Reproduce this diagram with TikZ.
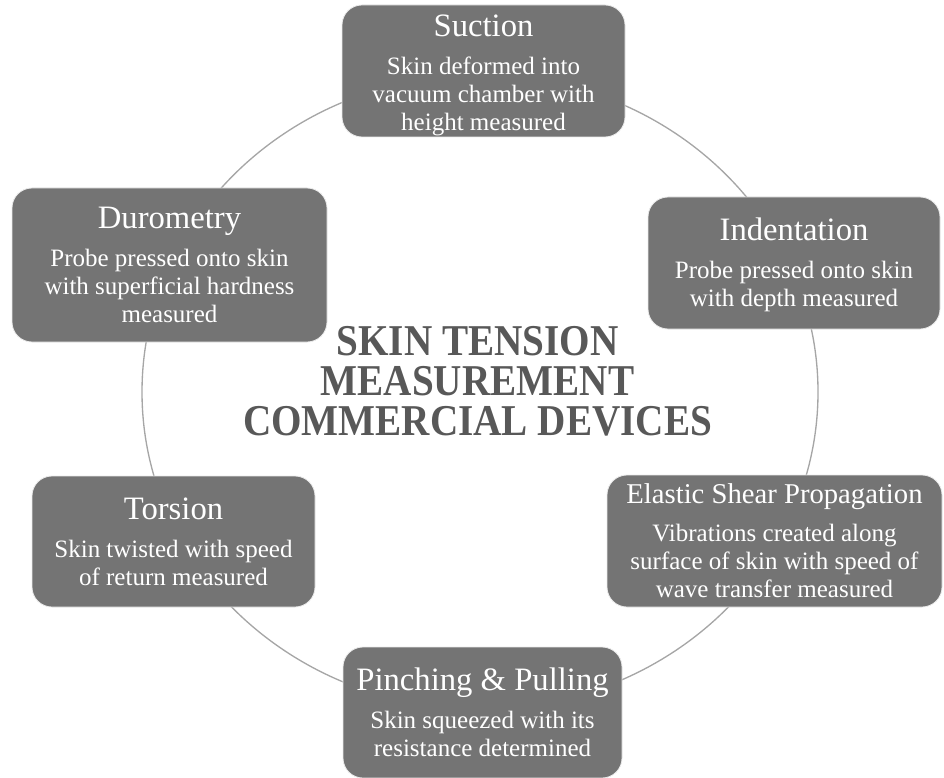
\documentclass[tikz,border=0pt]{standalone}
\usepackage{fontspec}
\setmainfont{Liberation Serif}
\definecolor{boxgray}{HTML}{747474}
\definecolor{ringgray}{HTML}{A6A6A6}
\definecolor{titlegray}{HTML}{585858}
\newcommand\boxttl[2][24.5]{{\fontsize{#1}{#1}\selectfont #2}\\[7.5pt]}
\newcommand\toppad[1]{\rule{0pt}{#1}}
\begin{document}
\begin{tikzpicture}[x=0.75pt,y=-0.75pt,
  cyclebox/.style={fill=boxgray, draw=white!85!boxgray, line width=0.6pt,
    rounded corners=15pt, text=white, align=center, inner sep=0pt,
    font=\fontsize{18.75}{21}\selectfont},
  sz/.style 2 args={minimum width=#1*0.75pt, minimum height=#2*0.75pt},
  ring/.style={draw=ringgray, line width=1pt},
  centertitle/.style={text=titlegray, align=center, inner sep=0pt,
    font=\bfseries\fontsize{33}{30}\selectfont}]
\useasboundingbox (0,0) rectangle (944,777);
\coordinate (ctr) at (480,392);
\draw[ring] (ctr) ellipse [x radius=338*0.75pt, y radius=317*0.75pt];

\node[cyclebox, sz={283}{132}] (suction) at (483.5,71)
  {\toppad{23pt}\boxttl{Suction}Skin deformed into\\vacuum chamber with\\height measured};
\node[cyclebox, sz={292}{132}] (indent) at (794,263)
  {\toppad{20pt}\boxttl{Indentation}Probe pressed onto skin\\with depth measured};
\node[cyclebox, sz={335}{132}] (elastic) at (774.5,541)
  {\boxttl[21.5]{Elastic Shear Propagation}Vibrations created along\\surface of skin with speed of\\wave transfer measured};
\node[cyclebox, sz={279}{131}] (pinch) at (482.5,712.5)
  {\boxttl{Pinching \& Pulling}Skin squeezed with its\\resistance determined};
\node[cyclebox, sz={283}{131}] (torsion) at (173.5,541.5)
  {\boxttl{Torsion}Skin twisted with speed\\of return measured};
\node[cyclebox, sz={315}{154}] (duro) at (169.5,265)
  {\boxttl{Durometry}Probe pressed onto skin\\with superficial hardness\\measured};

\node[centertitle] (center) at (477.5,381)
  {\scalebox{0.89}[1]{SKIN TENSION}\\\scalebox{0.89}[1]{MEASUREMENT}\\\scalebox{0.89}[1]{COMMERCIAL DEVICES}};
\end{tikzpicture}
\end{document}
